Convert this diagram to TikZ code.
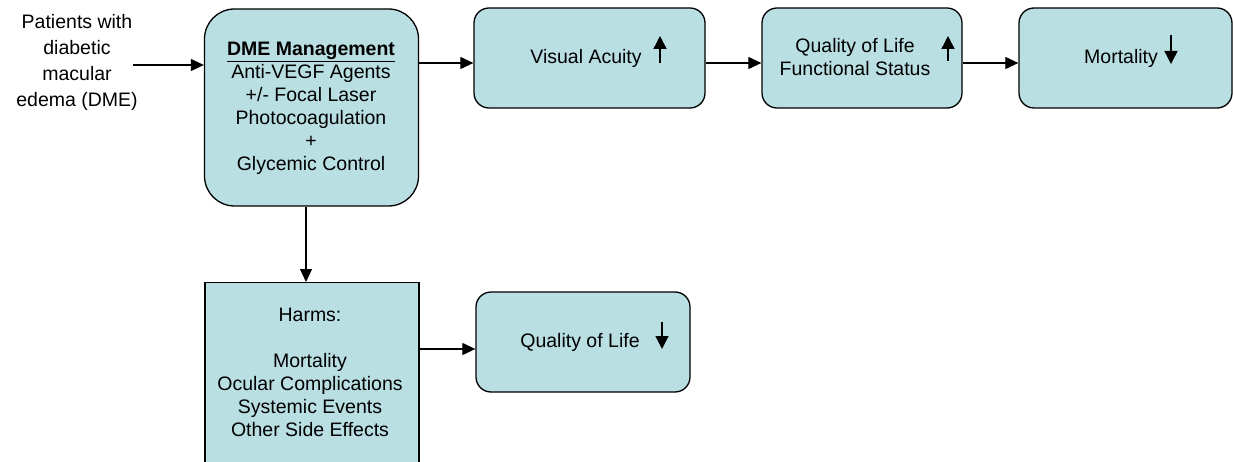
\documentclass[tikz,border=0pt]{standalone}
\usepackage{fontspec}
\setmainfont{Liberation Sans}
\usetikzlibrary{arrows.meta}
\definecolor{boxfill}{RGB}{185,223,227}
\tikzset{
  box/.style={draw=black, line width=1.3pt, fill=boxfill, rounded corners=15pt, inner sep=0pt},
  sqbox/.style={draw=black, line width=1.3pt, fill=boxfill, inner sep=0pt},
  txt/.style={align=center, inner sep=0pt, font=\fontsize{19.5}{23}\selectfont},
  conn/.style={line width=1.2pt, -{Triangle[length=13pt,width=12pt]}},
  ind/.style={line width=1.4pt, -{Triangle[length=13pt,width=13pt]}}
}
\begin{document}
\begin{tikzpicture}[x=1pt,y=-1pt]
\useasboundingbox (0,0) rectangle (1233,462);
\clip (0,0) rectangle (1233,462);
\fill[white] (0,0) rectangle (1233,462);
% boxes
\node[box, rounded corners=30pt, minimum width=214pt, minimum height=197pt] (dme) at (311.5,107.5) {};
\node[box, minimum width=231pt, minimum height=100pt] (va) at (589.5,58) {};
\node[box, minimum width=200pt, minimum height=100pt] (qol) at (862,58) {};
\node[box, minimum width=213pt, minimum height=100pt] (mort) at (1125.5,58) {};
\node[box, minimum width=214pt, minimum height=100pt] (qol2) at (583,342) {};
\node[sqbox, anchor=north, minimum width=214pt, minimum height=200pt] (harms) at (312,282) {};
% texts
\node[txt, font=\fontsize{19.5}{26}\selectfont] (pat) at (77,62) {Patients with\\diabetic\\macular\\edema (DME)};
\node[txt] (dmetxt) at (311,108) {\textbf{\underline{DME Management}}\\Anti-VEGF Agents\\+/- Focal Laser\\Photocoagulation\\+\\Glycemic Control};
\node[txt] (vatxt) at (586,58) {Visual Acuity};
\node[txt] (qoltxt) at (855,57) {Quality of Life\\Functional Status};
\node[txt] (morttxt) at (1121,58) {Mortality};
\node[txt] (qol2txt) at (580,342) {Quality of Life};
\node[txt] (harmstxt) at (310,372) {Harms:\\[23pt]Mortality\\Ocular Complications\\Systemic Events\\Other Side Effects};
% indicator arrows
\coordinate (vaA) at (660,63); \coordinate (vaB) at (660,36);
\draw[ind] (vaA) -- (vaB);
\coordinate (qoA) at (948,61); \coordinate (qoB) at (948,36);
\draw[ind] (qoA) -- (qoB);
\coordinate (moA) at (1171,35); \coordinate (moB) at (1171,64);
\draw[ind] (moA) -- (moB);
\coordinate (q2A) at (662,322); \coordinate (q2B) at (662,349);
\draw[ind] (q2A) -- (q2B);
% connectors
\coordinate (patend) at (133,65);
\draw[conn] (patend) -- (dme.west |- patend);
\draw[conn] (dme.east |- 0,63) -- (va.west |- 0,63);
\draw[conn] (va.east |- 0,63) -- (qol.west |- 0,63);
\draw[conn] (qol.east |- 0,63) -- (mort.west |- 0,63);
\draw[conn] (dme.south -| 306,0) -- (harms.north -| 306,0);
\draw[conn] (harms.east |- 0,349) -- (qol2.west |- 0,349);
\end{tikzpicture}
\end{document}
